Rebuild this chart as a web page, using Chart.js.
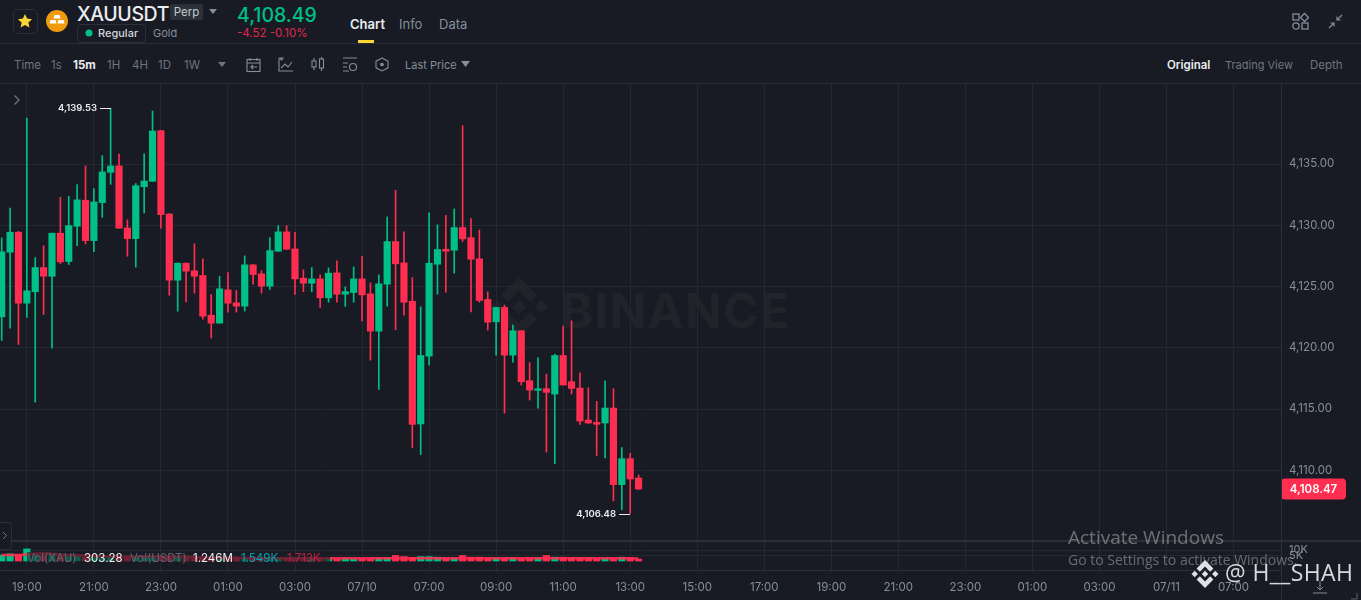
<!DOCTYPE html>
<html><head><meta charset="utf-8">
<script src="https://cdn.jsdelivr.net/npm/chart.js@4/dist/chart.umd.min.js"></script>
<style>
html,body{margin:0;padding:0;background:#181b23;width:1361px;height:600px;overflow:hidden;font-family:Inter,"Noto Sans",sans-serif;color:#848e9c}
.t{position:absolute;white-space:nowrap;line-height:1}
svg{position:absolute;overflow:visible}
.ln{position:absolute;background:#2b2f38}
#c{position:absolute;left:0;top:84px;width:1361px;height:516px}
</style></head><body>
<!-- watermark behind the chart -->
<svg style="left:489px;top:277px" width="60" height="60" viewBox="-30 -30 60 60" fill="#20232a"><path d="M0-7 7 0 0 7-7 0ZM-22-7-15 0-22 7-29 0ZM22-7 29 0 22 7 15 0ZM0-30 18-12 11-5 0-16-11-5-18-12ZM0 30 18 12 11 5 0 16-11 5-18 12Z"/></svg>
<div class="t" style="left:561px;top:287px;font-size:48px;font-weight:700;color:#20232a;letter-spacing:1.600px">BINANCE</div>

<canvas id="c" width="1361" height="516"></canvas>

<div class="ln" style="left:0;top:43px;width:1361px;height:1px"></div>
<div class="ln" style="left:0;top:83px;width:1361px;height:1px"></div>
<div class="ln" style="left:0;top:539.5px;width:1361px;height:2px"></div>
<div class="ln" style="left:1280.5px;top:84px;width:1px;height:516px"></div>
<!-- header -->
<div style="position:absolute;left:13px;top:9px;width:23px;height:23px;border:1px solid #2b2f38;border-radius:5px"></div>
<svg style="left:17px;top:13px" width="16" height="16" viewBox="0 0 16 16"><path fill="#fcd535" d="M8 1l2.1 4.6 5 .6-3.7 3.4 1 4.9L8 12.1 3.6 14.500l1-4.900L.9 6.200l5-.6z"/></svg>
<svg style="left:46px;top:10px" width="22" height="22" viewBox="0 0 22 22"><circle cx="11" cy="11" r="11" fill="#ee9c0e"/><path fill="#fff" d="M8.500 5h5l1 3.500h-7zM4.500 10h5l1 3.500h-7zM12.500 10h5l1 3.500h-7z"/></svg>
<div class="t" style="left:77px;top:5px;font-size:19.500px;font-weight:500;color:#eaecef;letter-spacing:-.4px">XAUUSDT</div>
<div class="t" style="left:170px;top:4px;width:33px;height:16px;background:#2b3139;border-radius:2px;color:#c4c8cf;font-size:11.500px;line-height:16px;text-align:center">Perp</div>
<svg style="left:209px;top:9px" width="8" height="5"><path fill="#848e9c" d="M0 0h8L4 5z"/></svg>
<div style="position:absolute;left:77px;top:24px;width:67px;height:17px;border:1px solid #2b3139;border-radius:4px"></div>
<svg style="left:85px;top:29px" width="8" height="8"><circle cx="4" cy="4" r="3.500" fill="#00c087"/></svg>
<div class="t" style="left:98px;top:28px;font-size:11px;font-weight:500;color:#d5d8dd">Regular</div>
<div class="t" style="left:153px;top:28px;font-size:11px;color:#848e9c">Gold</div>
<div class="t" style="left:237px;top:6px;font-size:19.500px;font-weight:500;color:#00c087">4,108.49</div>
<div class="t" style="left:237px;top:28px;font-size:11.500px;color:#e0294a">-4.52 -0.10%</div>
<div class="t" style="left:350px;top:18px;font-size:13px;font-weight:600;color:#eaecef">Chart</div>
<div style="position:absolute;left:358px;top:40px;width:16px;height:3px;background:#fcd535"></div>
<div class="t" style="left:399px;top:18px;font-size:13px;color:#848e9c">Info</div>
<div class="t" style="left:439px;top:18px;font-size:13px;color:#848e9c">Data</div>
<svg style="left:1292px;top:13px" width="18" height="17" fill="none" stroke="#848e9c" stroke-width="1.300"><rect x="1" y="1" width="6" height="6"/><path d="M12.500.5 16.500 4.500 12.500 8.500 8.500 4.500Z"/><circle cx="4" cy="13" r="3.200"/><rect x="10" y="10" width="6" height="6"/></svg>
<svg style="left:1328px;top:14px" width="15" height="15" fill="none" stroke="#848e9c" stroke-width="1.200"><path d="M14 1 9 6M9 2.500V6h3.500M1 14l5-5M6 12.500V9H2.500"/></svg>
<!-- toolbar -->
<div class="t" style="left:14px;top:60px;font-size:11.500px;color:#6d7582">Time</div>
<div class="t" style="left:51px;top:60px;font-size:11.500px;color:#6d7582">1s</div>
<div class="t" style="left:73px;top:60px;font-size:11.500px;font-weight:700;color:#eaecef">15m</div>
<div class="t" style="left:107px;top:60px;font-size:11.500px;color:#6d7582">1H</div>
<div class="t" style="left:132px;top:60px;font-size:11.500px;color:#6d7582">4H</div>
<div class="t" style="left:158px;top:60px;font-size:11.500px;color:#6d7582">1D</div>
<div class="t" style="left:184px;top:60px;font-size:11.500px;color:#6d7582">1W</div>
<svg style="left:218px;top:62px" width="8" height="5"><path fill="#6d7582" d="M0 0h8L4 5z"/></svg>
<svg style="left:246px;top:57px" width="16" height="16" fill="none" stroke="#848e9c" stroke-width="1.100"><rect x="1" y="2.500" width="13" height="12"/><path d="M1 6h13M4 1v3M11 1v3M11 10H5M7 8l-2 2 2 2"/></svg>
<svg style="left:278px;top:57px" width="16" height="16" fill="none" stroke="#848e9c" stroke-width="1.100"><path d="M1 1v13h14M3 11l4-4 3 3 4-5M2 1h3L3.500 3z"/></svg>
<svg style="left:311px;top:57px" width="14" height="15" fill="none" stroke="#848e9c" stroke-width="1.100"><rect x="1" y="4" width="4" height="6"/><rect x="8.500" y="2" width="4" height="9"/><path d="M3 1v3M3 10v3M10.500 0v2M10.500 11v3"/></svg>
<svg style="left:343px;top:57px" width="15" height="16" fill="none" stroke="#848e9c" stroke-width="1.100"><path d="M0 1h14M0 6h5M0 10h4M0 14h6"/><circle cx="10" cy="10" r="3.500"/></svg>
<svg style="left:375px;top:57px" width="14" height="15" fill="none" stroke="#848e9c" stroke-width="1.100"><path d="M7 1 13 4.200V10.800L7 14 1 10.800V4.200Z"/><circle cx="7" cy="7.500" r="1.300" fill="#848e9c"/></svg>
<div class="t" style="left:405px;top:60px;font-size:11px;color:#848e9c">Last Price</div>
<svg style="left:461px;top:61px" width="9" height="6"><path fill="#848e9c" d="M0 0h9L4.500 6z"/></svg>
<div class="t" style="left:1167px;top:60px;font-size:11.500px;font-weight:600;color:#eaecef">Original</div>
<div class="t" style="left:1225px;top:60px;font-size:11px;color:#6d7582">Trading View</div>
<div class="t" style="left:1310px;top:60px;font-size:11.500px;color:#6d7582">Depth</div>
<!-- chart chrome -->
<svg style="left:13px;top:94px" width="8" height="12" fill="none" stroke="#6d7582" stroke-width="1.300"><path d="M1.500 1.500 6 6 1.500 10.500"/></svg>
<div style="position:absolute;left:-4px;top:522px;width:14px;height:26px;border:1px solid #2b2f38;border-radius:3px;background:#181b23"></div>
<svg style="left:2px;top:531px" width="6" height="9" fill="none" stroke="#6d7582" stroke-width="1"><path d="M1 1 4.500 4.500 1 8"/></svg>
<!-- volume legend -->
<div class="t" style="left:27px;top:552px;width:303px;height:12px;background:rgba(24,27,35,.62);font-size:11.500px;line-height:12px;color:#5d646f">Vol(XAU)<span style="position:absolute;left:57px;color:#eaecef">303.28</span><span style="position:absolute;left:103px">Vol(USDT)</span><span style="position:absolute;left:166px;color:#eaecef">1.246M</span><span style="position:absolute;left:214px;color:#00a5b5">1.549K</span><span style="position:absolute;left:260px;color:#b8223e">1.713K</span></div>
<!-- overlays -->
<div class="t" style="left:1068px;top:528px;font-size:19px;font-family:'Open Sans';color:rgba(255,255,255,.36)">Activate Windows</div>
<div class="t" style="left:1068px;top:553px;font-size:14px;font-family:'Open Sans';color:rgba(255,255,255,.34)">Go to Settings to activate Windows.</div>
<svg style="left:1191px;top:560px" width="28" height="28" viewBox="-30 -30 60 60" fill="#dfe1e5"><path d="M0-7 7 0 0 7-7 0ZM-22-7-15 0-22 7-29 0ZM22-7 29 0 22 7 15 0ZM0-30 18-12 11-5 0-16-11-5-18-12ZM0 30 18 12 11 5 0 16-11 5-18 12Z"/></svg>
<div class="t" style="left:1225px;top:561px;font-size:23px;font-family:'Open Sans';color:#d8dadf;letter-spacing:.4px">@ H__SHAH</div>
<svg style="left:1313px;top:581px" width="14" height="13" fill="none" stroke="#848e9c" stroke-width="1"><path d="M7 0v9M4 6l3 3 3-3M0 12h14"/></svg>
<svg style="left:1351px;top:593px" width="7" height="7" fill="none" stroke="#5d646f" stroke-width="1"><path d="M6 0v6H0"/></svg>
<script>
const tickPositions=[3,11,19,27,35,43,51,59,67,75,83,91,99,107,115,123,131,139,147];
const tickLabels=["19:00","21:00","23:00","01:00","03:00","07/10","07:00","09:00","11:00","13:00","15:00","17:00","19:00","21:00","23:00","01:00","03:00","07/11","07:00"];
const priceTicks=[4110,4115,4120,4125,4130,4135];
const volumeTicks=[5,10];
const opens=[4122.53,4127.80,4129.43,4123.64,4124.57,4126.55,4125.84,4129.35,4127.04,4129.92,4132.04,4128.75,4131.85,4134.32,4134.84,4129.78,4128.91,4133.15,4133.59,4137.72,4130.92,4125.52,4126.90,4126.28,4125.90,4122.66,4122.01,4124.73,4123.67,4123.40,4126.77,4126.03,4125.03,4127.88,4129.46,4128.07,4125.68,4125.27,4125.62,4124.08,4126.11,4124.37,4124.51,4125.62,4124.40,4121.36,4125.19,4128.67,4126.93,4123.80,4113.78,4119.32,4126.82,4128.04,4127.96,4129.81,4128.99,4127.26,4123.94,4122.12,4123.29,4119.40,4121.39,4117.31,4116.52,4116.66,4116.22,4119.37,4117.23,4116.71,4114.10,4113.91,4113.86,4115.08,4108.83,4110.95,4109.37];
const highs=[4128.97,4131.41,4129.51,4138.75,4127.36,4128.32,4129.37,4132.28,4132.36,4133.32,4134.84,4132.99,4135.68,4139.53,4135.82,4130.43,4133.40,4135.84,4139.32,4137.74,4130.95,4126.93,4126.93,4128.48,4127.26,4124.35,4125.82,4126.14,4124.67,4127.50,4126.77,4126.30,4128.99,4129.97,4129.97,4129.43,4126.36,4126.55,4125.95,4126.52,4127.09,4124.97,4126.60,4127.47,4125.30,4125.95,4130.68,4132.85,4129.46,4125.73,4123.34,4131.01,4130.03,4130.82,4131.33,4138.13,4130.54,4129.62,4124.57,4123.32,4123.48,4121.85,4121.39,4118.78,4119.18,4117.85,4119.48,4121.77,4122.20,4117.96,4116.74,4115.62,4117.31,4116.66,4111.85,4111.39,4109.62];
const lows=[4120.60,4121.60,4120.27,4122.47,4115.57,4122.72,4119.97,4126.87,4126.79,4128.34,4128.48,4127.85,4130.65,4133.34,4129.76,4127.47,4126.58,4131.01,4133.59,4129.76,4124.29,4122.99,4123.75,4124.46,4122.34,4120.79,4122.01,4122.91,4122.91,4122.99,4125.19,4124.46,4124.76,4127.88,4128.04,4124.35,4124.57,4124.59,4123.29,4123.72,4123.72,4123.37,4123.72,4122.20,4118.99,4116.60,4123.40,4121.47,4122.66,4111.85,4111.28,4118.59,4124.37,4124.54,4126.09,4128.67,4122.93,4123.72,4121.44,4119.40,4114.67,4118.83,4116.96,4115.73,4115.08,4111.49,4110.54,4116.96,4116.22,4113.75,4113.83,4111.20,4111.00,4107.50,4106.77,4106.48,4108.42];
const closes=[4127.83,4129.43,4123.64,4124.65,4126.55,4125.84,4129.35,4127.01,4129.97,4132.07,4128.75,4131.90,4134.35,4134.84,4129.76,4128.91,4133.23,4133.61,4137.69,4130.87,4125.52,4126.90,4126.25,4125.84,4122.58,4122.01,4124.81,4123.64,4123.40,4126.77,4125.98,4125.03,4127.93,4129.46,4128.04,4125.62,4125.27,4125.62,4124.08,4126.09,4124.37,4124.59,4125.62,4124.32,4121.36,4125.22,4128.67,4126.85,4123.72,4113.75,4119.37,4126.90,4128.02,4127.88,4129.81,4128.89,4127.23,4123.86,4122.09,4123.29,4119.40,4121.39,4117.23,4116.55,4116.66,4116.36,4119.37,4116.96,4116.68,4114.02,4113.86,4113.75,4115.08,4108.83,4110.95,4109.29,4108.47];
const volumes=[5.5,6.5,5.5,11,6,5,6,5,4.5,4.5,4,4,4,4,4,4,3.5,4,4.5,5,4.5,4,3,3,3,3,3,3,2.5,2.5,3,2.5,2.5,3,2.5,2.5,2.5,2,2,2.5,2,2.5,1.8,2,2.5,3,3,5,4,3.2,4,4,3.5,2.5,2.5,5,3.5,3.5,2.8,2.5,2.5,3,2.2,3.2,3,5,3.5,3.5,3,3,2.8,2.5,2.5,2.5,3.5,3,1.7];
const volumeAverage=[5.5,5.5,5.5,6,6.5,7,6.5,6,5.5,5.2,5,4.5,4.2,4,4,4,4,4,4,4.2,4.2,4.2,4,3.6,3.4,3,3,3,3,2.8,2.7,2.6,2.6,2.6,2.6,2.6,2.6,2.5,2.4,2.4,2.4,2.4,2.4,2.4,2.4,2.4,2.4,2.6,2.6,2.6,2.6,2.6,2.5,2.5,2.4,2.6,2.6,2.6,2.5,2.4,2.4,2.4,2.4,2.4,2.4,2.6,2.6,2.6,2.5,2.4,2.4,2.4,2.4,2.4,2.4,2.4,2.3];
const highLabel="4,139.53",lowLabel="4,106.48",lastPrice=4108.47;

const UP='#00c087',DOWN='#ff2e50';
const colors=closes.map((c,i)=>c>=opens[i]?UP:DOWN);
const idx=closes.map((_,i)=>i);
const fontFam='Inter,"Noto Sans",sans-serif';
const noPad=s=>{s.paddingTop=0;s.paddingBottom=0;s.paddingLeft=0;s.paddingRight=0;};

const annotate={id:'annotate',afterDatasetsDraw(ch){
  const {ctx,scales:{x,y}}=ch;ctx.save();
  ctx.font='600 9.5px '+fontFam;ctx.textBaseline='middle';
  const hi=highs.indexOf(Math.max(...highs)),lo=lows.indexOf(Math.min(...lows));
  [[hi,highs[hi],highLabel,-1],[lo,lows[lo],lowLabel,1]].forEach(([i,v,s,d])=>{
    const px=Math.round(x.getPixelForValue(i)),py=Math.round(y.getPixelForValue(v))+d;
    ctx.strokeStyle='#eaecef';ctx.lineWidth=1;ctx.beginPath();ctx.moveTo(px,py+.5);ctx.lineTo(px-11,py+.5);ctx.stroke();
    ctx.fillStyle='#eaecef';ctx.textAlign='right';ctx.fillText(s,px-14,py+.5);
  });
  const ly=y.getPixelForValue(lastPrice);
  ctx.fillStyle=DOWN;ctx.beginPath();ctx.roundRect(1281,ly-10.5,65,21,4);ctx.fill();
  ctx.fillStyle='#fff';ctx.font='600 11.5px '+fontFam;ctx.textAlign='center';
  ctx.fillText(lastPrice.toLocaleString('en-US',{minimumFractionDigits:2}),1313.5,ly+.5);
  ctx.restore();
}};

new Chart(document.getElementById('c'),{
  data:{datasets:[
    {type:'bar',label:'Wick',order:3,yAxisID:'y',grouped:false,barThickness:1,
     data:idx.map(i=>({x:i,y:[lows[i],highs[i]]})),backgroundColor:colors},
    {type:'bar',label:'Body',order:2,yAxisID:'y',grouped:false,barThickness:6.5,
     data:idx.map(i=>({x:i,y:[opens[i],closes[i]]})),backgroundColor:colors},
    {type:'bar',label:'Volume',order:2,yAxisID:'v',grouped:false,barThickness:6.5,
     data:idx.map(i=>({x:i,y:volumes[i]})),backgroundColor:colors},
    {type:'line',label:'Volume MA',order:1,yAxisID:'v',pointRadius:0,borderWidth:2.5,borderColor:'rgba(255,46,80,.9)',tension:0,
     data:idx.map(i=>({x:i,y:volumeAverage[i]}))}
  ]},
  options:{
    responsive:false,animation:false,
    layout:{padding:0},
    plugins:{legend:{display:false},tooltip:{enabled:false}},
    scales:{
      x:{type:'linear',min:-0.203,max:152.66,offset:false,
        afterBuildTicks(s){s.ticks=tickPositions.map(v=>({value:v}));},
        afterFit(s){s.height=30;noPad(s);},
        grid:{color:'#252831',lineWidth:1,drawTicks:false,offset:false},
        border:{color:'#2b2f38'},
        ticks:{autoSkip:false,maxRotation:0,color:'#848e9c',font:{family:fontFam,size:11.5},padding:11,
          callback:v=>tickLabels[tickPositions.indexOf(v)]}},
      y:{type:'linear',position:'right',stack:'panes',stackWeight:456,min:4104.31,max:4141.53,
        afterBuildTicks(s){s.ticks=priceTicks.map(v=>({value:v}));},
        afterFit(s){s.width=80;noPad(s);},
        grid:{color:'#252831',lineWidth:1,drawTicks:false},border:{display:false},
        ticks:{color:'#848e9c',font:{family:fontFam,size:11.5},padding:8,
          callback:v=>v.toLocaleString('en-US',{minimumFractionDigits:2})}},
      v:{type:'linear',position:'right',stack:'panes',stackWeight:30,min:-8.18,max:19.09,
        afterBuildTicks(s){s.ticks=volumeTicks.map(v=>({value:v}));},
        afterFit(s){s.width=80;noPad(s);},
        grid:{color:'#252831',lineWidth:1,drawTicks:false},border:{display:false},
        ticks:{color:'#848e9c',font:{family:fontFam,size:11},padding:8,autoSkip:false,
          callback:v=>v+'K'}}
    }
  },
  plugins:[annotate]
});
</script>
</body></html>
